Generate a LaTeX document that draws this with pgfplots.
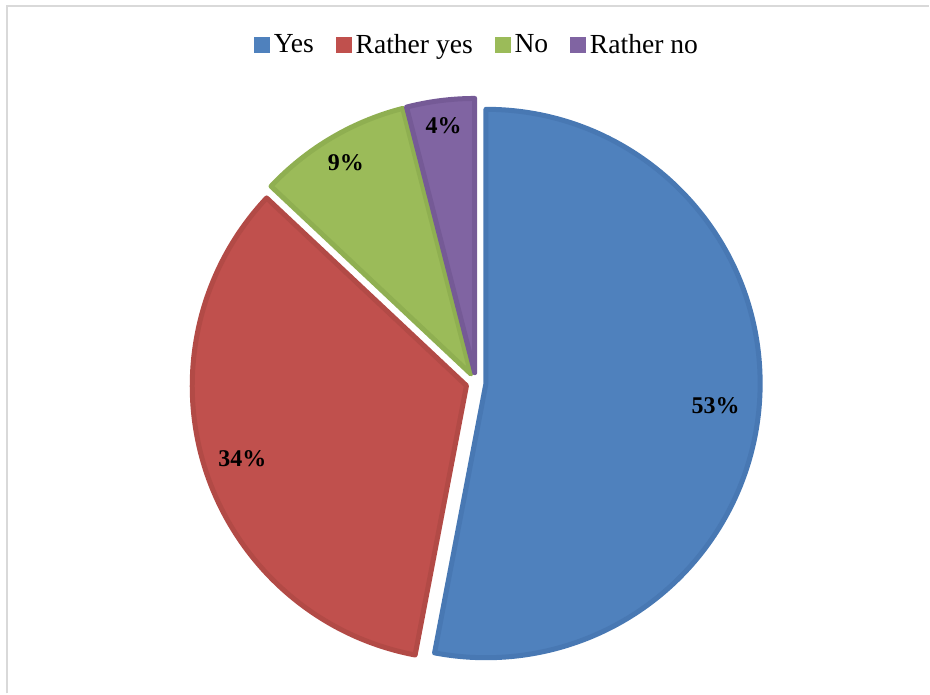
\documentclass[border=0pt]{standalone}
\usepackage{pgfplots}
\pgfplotsset{compat=1.18}
\usepackage{pgfplotstable}
\usepackage{fontspec}
\setmainfont{Liberation Serif}

\definecolor{slice0}{HTML}{4F81BD}
\definecolor{slice1}{HTML}{C0504D}
\definecolor{slice2}{HTML}{9BBB59}
\definecolor{slice3}{HTML}{8064A2}
\definecolor{edge0}{HTML}{4878B3}
\definecolor{edge1}{HTML}{B24A46}
\definecolor{edge2}{HTML}{8FAF51}
\definecolor{edge3}{HTML}{755A96}
\definecolor{framegray}{HTML}{D9D9D9}

\pgfplotstableread{
label value lr
Yes 53 231
RatherYes 34 236
No 9 246
RatherNo 4 249
}\piedata

\def\cx{476.5}
\def\cy{311}
\def\R{274.5}
\def\ex{10}

\gdef\cum{0}
\pgfplotsforeachungrouped \i in {0,...,3}{%
  \pgfplotstablegetelem{\i}{value}\of\piedata \let\v\pgfplotsretval
  \pgfplotstablegetelem{\i}{lr}\of\piedata \let\lr\pgfplotsretval
  \pgfmathsetmacro\tA{\cum*3.6}%
  \pgfmathsetmacro\tB{(\cum+\v)*3.6}%
  \pgfmathsetmacro\pA{90-\tA}%
  \pgfmathsetmacro\pB{90-\tB}%
  \pgfmathsetmacro\pM{90-(\tA+\tB)/2}%
  \pgfmathsetmacro\ax{\cx+\ex*cos(\pM)}%
  \pgfmathsetmacro\ay{\cy+\ex*sin(\pM)}%
  \pgfmathsetmacro\sx{\ax+\R*cos(\pA)}%
  \pgfmathsetmacro\sy{\ay+\R*sin(\pA)}%
  \pgfmathsetmacro\lx{\ax+\lr*cos(\pM)}%
  \pgfmathsetmacro\ly{\ay+\lr*sin(\pM)}%
  \expandafter\xdef\csname pA\i\endcsname{\pA}%
  \expandafter\xdef\csname pB\i\endcsname{\pB}%
  \expandafter\xdef\csname ax\i\endcsname{\ax}%
  \expandafter\xdef\csname ay\i\endcsname{\ay}%
  \expandafter\xdef\csname sx\i\endcsname{\sx}%
  \expandafter\xdef\csname sy\i\endcsname{\sy}%
  \expandafter\xdef\csname lx\i\endcsname{\lx}%
  \expandafter\xdef\csname ly\i\endcsname{\ly}%
  \expandafter\xdef\csname val\i\endcsname{\v}%
  \pgfmathsetmacro\newcum{\cum+\v}%
  \xdef\cum{\newcum}%
}

\begin{document}
\begin{tikzpicture}
\begin{axis}[
  scale only axis,
  width=465pt, height=347pt,
  xmin=0, xmax=930, ymin=0, ymax=694,
  hide axis, clip=false,
  legend columns=-1,
  legend style={
    at={(0.5145,0.935)}, anchor=center, draw=none, fill=none,
    font=\fontsize{13.8}{16}\selectfont,
    /tikz/every even column/.append style={column sep=9pt},
    inner sep=0pt,
  },
  legend cell align=left,
]
\path (axis cs:0,0) rectangle (axis cs:930,694);
\draw[framegray, line width=1pt] (axis cs:7,0) -- (axis cs:7,688) -- (axis cs:930,688);
\pgfplotsinvokeforeach{0,...,3}{%
  \draw[fill=slice#1, draw=edge#1, line width=2.5pt, line join=round]
    (axis cs:\csname ax#1\endcsname,\csname ay#1\endcsname)
    -- (axis cs:\csname sx#1\endcsname,\csname sy#1\endcsname)
    arc[start angle=\csname pA#1\endcsname, end angle=\csname pB#1\endcsname, radius=137.25pt]
    -- cycle;
}
\pgfplotsinvokeforeach{0,...,3}{%
  \node[font=\fontsize{12}{14}\selectfont\bfseries, inner sep=0pt]
    at (axis cs:\csname lx#1\endcsname,\csname ly#1\endcsname) {\csname val#1\endcsname\%};
}
\addlegendimage{legend image code/.code={\fill[slice0] (0pt,-3.75pt) rectangle (7.5pt,3.75pt);}}
\addlegendentry{Yes}
\addlegendimage{legend image code/.code={\fill[slice1] (0pt,-3.75pt) rectangle (7.5pt,3.75pt);}}
\addlegendentry{Rather yes}
\addlegendimage{legend image code/.code={\fill[slice2] (0pt,-3.75pt) rectangle (7.5pt,3.75pt);}}
\addlegendentry{No}
\addlegendimage{legend image code/.code={\fill[slice3] (0pt,-3.75pt) rectangle (7.5pt,3.75pt);}}
\addlegendentry{Rather no}
\end{axis}
\end{tikzpicture}
\end{document}
